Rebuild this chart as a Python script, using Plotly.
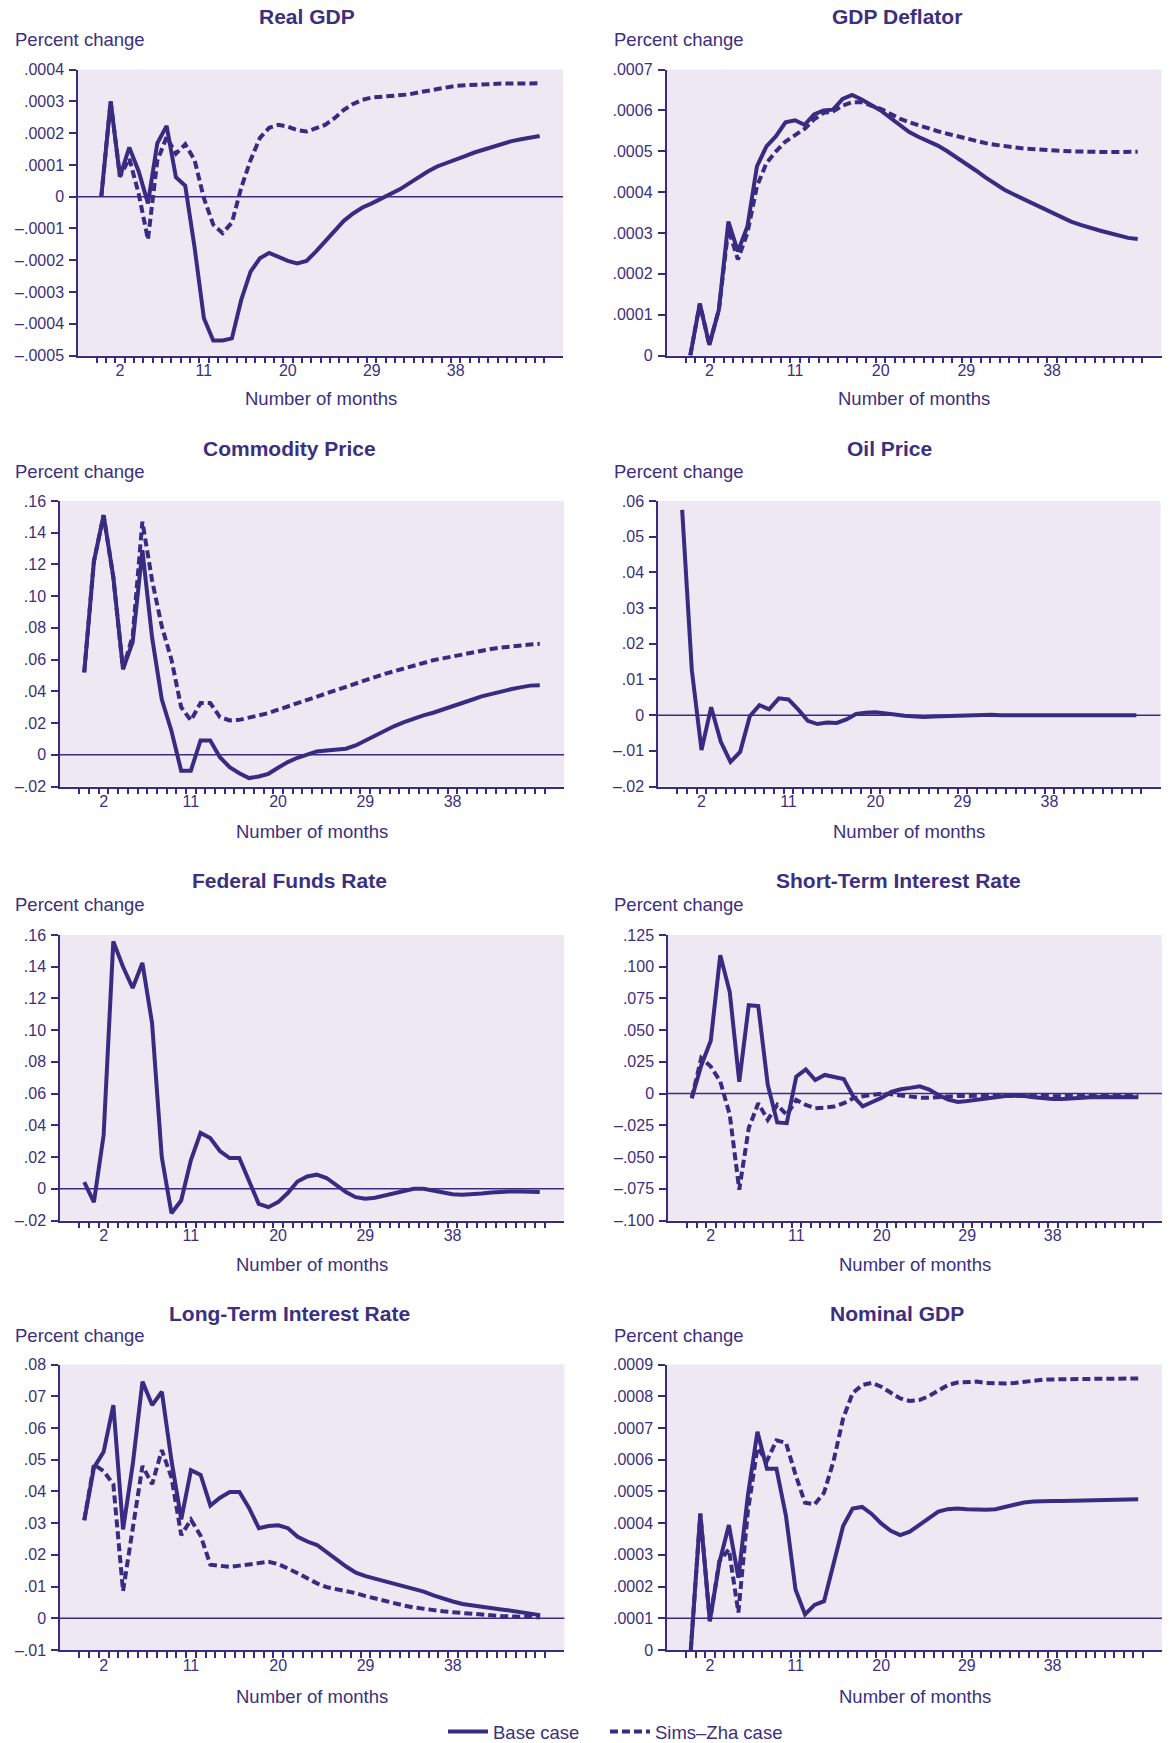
import plotly.graph_objects as go

# ---------------- DATA ----------------
months = list(range(48))

real_gdp_base = [0.0, 3.0e-4, 0.63e-4, 1.55e-4, 0.8e-4, -0.21e-4, 1.68e-4, 2.23e-4, 0.61e-4, 0.34e-4,
                 -1.6e-4, -3.83e-4, -4.53e-4, -4.53e-4, -4.46e-4, -3.25e-4, -2.36e-4, -1.94e-4, -1.77e-4, -1.89e-4,
                 -2.02e-4, -2.1e-4, -2.02e-4, -1.73e-4, -1.42e-4, -1.08e-4, -0.76e-4, -0.53e-4, -0.34e-4, -0.21e-4,
                 -0.07e-4, 0.08e-4, 0.23e-4, 0.42e-4, 0.61e-4, 0.79e-4, 0.95e-4, 1.07e-4, 1.18e-4, 1.28e-4,
                 1.39e-4, 1.48e-4, 1.58e-4, 1.66e-4, 1.75e-4, 1.81e-4, 1.86e-4, 1.91e-4]
real_gdp_sz = [0.0, 3.0e-4, 0.63e-4, 1.2e-4, 0.1e-4, -1.35e-4, 1.13e-4, 1.88e-4, 1.35e-4, 1.65e-4,
               1.15e-4, -0.05e-4, -0.88e-4, -1.15e-4, -0.82e-4, 0.28e-4, 1.15e-4, 1.85e-4, 2.17e-4, 2.26e-4,
               2.2e-4, 2.1e-4, 2.05e-4, 2.15e-4, 2.26e-4, 2.47e-4, 2.73e-4, 2.92e-4, 3.05e-4, 3.12e-4,
               3.15e-4, 3.17e-4, 3.18e-4, 3.22e-4, 3.28e-4, 3.34e-4, 3.39e-4, 3.45e-4, 3.49e-4, 3.51e-4,
               3.53e-4, 3.54e-4, 3.55e-4, 3.56e-4, 3.56e-4, 3.57e-4, 3.57e-4, 3.57e-4]

deflator_base = [0.0, 1.27e-4, 0.26e-4, 1.12e-4, 3.28e-4, 2.55e-4, 3.16e-4, 4.63e-4, 5.12e-4, 5.37e-4,
                 5.71e-4, 5.76e-4, 5.65e-4, 5.9e-4, 6.0e-4, 6.02e-4, 6.28e-4, 6.38e-4, 6.27e-4, 6.14e-4,
                 6.0e-4, 5.82e-4, 5.63e-4, 5.47e-4, 5.35e-4, 5.24e-4, 5.14e-4, 5.0e-4, 4.85e-4, 4.69e-4,
                 4.53e-4, 4.36e-4, 4.2e-4, 4.06e-4, 3.94e-4, 3.83e-4, 3.72e-4, 3.6e-4, 3.49e-4, 3.39e-4,
                 3.28e-4, 3.2e-4, 3.12e-4, 3.06e-4, 3.0e-4, 2.93e-4, 2.88e-4, 2.85e-4]
deflator_sz = [0.0, 1.27e-4, 0.26e-4, 1.12e-4, 3.1e-4, 2.35e-4, 3.0e-4, 4.14e-4, 4.71e-4, 5.0e-4,
               5.24e-4, 5.41e-4, 5.55e-4, 5.78e-4, 5.94e-4, 5.98e-4, 6.12e-4, 6.2e-4, 6.2e-4, 6.12e-4,
               6.04e-4, 5.92e-4, 5.8e-4, 5.71e-4, 5.63e-4, 5.56e-4, 5.49e-4, 5.43e-4, 5.37e-4, 5.3e-4,
               5.24e-4, 5.2e-4, 5.16e-4, 5.12e-4, 5.1e-4, 5.07e-4, 5.05e-4, 5.03e-4, 5.02e-4, 5.01e-4,
               5.0e-4, 4.99e-4, 4.99e-4, 4.98e-4, 4.98e-4, 4.98e-4, 4.98e-4, 4.99e-4]

commodity_base = [0.052, 0.122, 0.151, 0.112, 0.054, 0.071, 0.129, 0.074, 0.035, 0.015,
                  -0.010, -0.010, 0.009, 0.009, -0.0015, -0.0078, -0.0116, -0.0147, -0.0137, -0.012,
                  -0.0082, -0.0046, -0.0019, 0.0002, 0.0021, 0.0027, 0.0032, 0.0038, 0.0059, 0.009,
                  0.0124, 0.0154, 0.0181, 0.0206, 0.023, 0.0248, 0.0265, 0.0284, 0.0305, 0.0326,
                  0.0347, 0.0368, 0.0385, 0.04, 0.0413, 0.0425, 0.0436, 0.0438]
commodity_sz = [0.052, 0.122, 0.151, 0.112, 0.054, 0.075, 0.147, 0.110, 0.081, 0.060,
                0.030, 0.0217, 0.0326, 0.0326, 0.0238, 0.0217, 0.022, 0.0234, 0.0248, 0.0263,
                0.0284, 0.0305, 0.0326, 0.0347, 0.037, 0.039, 0.041, 0.0427, 0.0448, 0.0469,
                0.049, 0.051, 0.0528, 0.0547, 0.0564, 0.0581, 0.0596, 0.0608, 0.0621, 0.0634,
                0.0646, 0.0657, 0.0667, 0.0676, 0.0684, 0.069, 0.0695, 0.07]

oil_base = [0.0575, 0.0126, -0.0098, 0.0022, -0.0075, -0.0131, -0.0103, -0.0003, 0.0028, 0.0016,
            0.0047, 0.0044, 0.0016, -0.0016, -0.0025, -0.0021, -0.0022, -0.0012, 0.0003, 0.0007,
            0.0008, 0.0006, 0.0002, -0.0002, -0.0004, -0.0005, -0.0004, -0.0003, -0.0002, -0.0001,
            0.0, 0.0001, 0.0001, 0.0, 0.0, -0.0001, 0.0, 0.0, 0.0, 0.0,
            0.0, 0.0, 0.0, 0.0, 0.0, 0.0, 0.0, 0.0]

fedfunds_base = [0.0042, -0.0084, 0.0338, 0.156, 0.140, 0.1266, 0.1424, 0.1044, 0.020, -0.0154,
                 -0.0074, 0.0179, 0.0352, 0.032, 0.0238, 0.0194, 0.0194, 0.0057, -0.0095, -0.0116,
                 -0.0084, -0.0027, 0.0046, 0.0078, 0.0089, 0.0068, 0.0025, -0.0021, -0.0053, -0.0063,
                 -0.0057, -0.0042, -0.0025, -0.0011, 0.0, 0.0, -0.0011, -0.0025, -0.0034, -0.0038,
                 -0.0036, -0.003, -0.0023, -0.0017, -0.0017, -0.0017, -0.0019, -0.0021]

short_base = [-0.0036, 0.0222, 0.0416, 0.109, 0.080, 0.0093, 0.0697, 0.069, 0.007, -0.0227,
              -0.0233, 0.0134, 0.0191, 0.0107, 0.0147, 0.0134, 0.0115, -0.0022, -0.01, -0.0066,
              -0.0032, 0.0013, 0.0034, 0.0045, 0.0058, 0.0032, -0.0013, -0.0047, -0.0066, -0.0058,
              -0.0047, -0.0037, -0.0026, -0.0018, -0.0016, -0.0018, -0.0029, -0.0037, -0.0042, -0.0042,
              -0.004, -0.0034, -0.0029, -0.0026, -0.0026, -0.0026, -0.0029, -0.0029]
short_sz = [-0.0036, 0.028, 0.0214, 0.0096, -0.0167, -0.0757, -0.0272, -0.0076, -0.0207, -0.0089,
            -0.0168, -0.005, -0.0089, -0.0115, -0.011, -0.0102, -0.0076, -0.0037, -0.0021, -0.0008,
            0.0, -0.0005, -0.0013, -0.0026, -0.0032, -0.0032, -0.0026, -0.0021, -0.0018, -0.0018,
            -0.0016, -0.0015, -0.0015, -0.0016, -0.0018, -0.002, -0.0021, -0.0021, -0.002, -0.0019,
            -0.0018, -0.0017, -0.0016, -0.0016, -0.0017, -0.0018, -0.0018, -0.0018]

long_base = [0.0309, 0.0475, 0.0525, 0.0672, 0.028, 0.0485, 0.0746, 0.0672, 0.0714, 0.0496,
             0.0312, 0.0467, 0.0452, 0.0355, 0.038, 0.0398, 0.0398, 0.0347, 0.0284, 0.0291,
             0.0293, 0.0284, 0.0257, 0.0242, 0.0231, 0.021, 0.0186, 0.0163, 0.0144, 0.0133,
             0.0125, 0.0118, 0.011, 0.0103, 0.0095, 0.0084, 0.0072, 0.0061, 0.0053, 0.0045,
             0.004, 0.0036, 0.0032, 0.0028, 0.0024, 0.002, 0.0016, 0.001]
long_sz = [0.0309, 0.0485, 0.0464, 0.0422, 0.0086, 0.029, 0.048, 0.0423, 0.053, 0.0443,
           0.0262, 0.0311, 0.026, 0.0169, 0.0165, 0.0162, 0.0166, 0.0171, 0.0175, 0.0178,
           0.0171, 0.0158, 0.0142, 0.0126, 0.011, 0.0098, 0.0092, 0.0087, 0.0079, 0.007,
           0.0062, 0.0055, 0.0047, 0.004, 0.0034, 0.0029, 0.0025, 0.0022, 0.0019, 0.0016,
           0.0014, 0.0012, 0.0009, 0.0007, 0.0006, 0.0005, 0.0004, 0.0003]

nominal_base = [0.0, 4.3e-4, 0.91e-4, 2.75e-4, 3.94e-4, 2.28e-4, 4.88e-4, 6.88e-4, 5.71e-4, 5.71e-4,
                4.22e-4, 1.91e-4, 1.12e-4, 1.42e-4, 1.54e-4, 2.7e-4, 3.91e-4, 4.46e-4, 4.51e-4, 4.29e-4,
                3.99e-4, 3.76e-4, 3.62e-4, 3.73e-4, 3.94e-4, 4.15e-4, 4.36e-4, 4.44e-4, 4.46e-4, 4.44e-4,
                4.42e-4, 4.42e-4, 4.44e-4, 4.52e-4, 4.59e-4, 4.65e-4, 4.68e-4, 4.7e-4, 4.7e-4, 4.7e-4,
                4.71e-4, 4.71e-4, 4.72e-4, 4.73e-4, 4.74e-4, 4.75e-4, 4.75e-4, 4.75e-4]
nominal_sz = [0.0, 4.3e-4, 0.91e-4, 2.8e-4, 3.17e-4, 1.18e-4, 4.38e-4, 6.37e-4, 5.96e-4, 6.61e-4,
              6.53e-4, 5.53e-4, 4.64e-4, 4.59e-4, 4.96e-4, 5.96e-4, 7.3e-4, 8.1e-4, 8.35e-4, 8.42e-4,
              8.3e-4, 8.11e-4, 7.93e-4, 7.85e-4, 7.88e-4, 8.0e-4, 8.19e-4, 8.35e-4, 8.43e-4, 8.46e-4,
              8.46e-4, 8.42e-4, 8.4e-4, 8.4e-4, 8.42e-4, 8.46e-4, 8.5e-4, 8.52e-4, 8.53e-4, 8.54e-4,
              8.54e-4, 8.55e-4, 8.55e-4, 8.55e-4, 8.55e-4, 8.55e-4, 8.56e-4, 8.56e-4]

titles = ["Real GDP", "GDP Deflator", "Commodity Price", "Oil Price",
          "Federal Funds Rate", "Short-Term Interest Rate", "Long-Term Interest Rate", "Nominal GDP"]
series_names = ["Base case", "Sims–Zha case"]

x_tick_vals = [2, 11, 20, 29, 38]
x_tick_text = ["2", "11", "20", "29", "38"]

y_ticks_gdp = [-0.0005, -0.0004, -0.0003, -0.0002, -0.0001, 0, 0.0001, 0.0002, 0.0003, 0.0004]
y_text_gdp = ["–.0005", "–.0004", "–.0003", "–.0002", "–.0001", "0", ".0001", ".0002", ".0003", ".0004"]
y_ticks_defl = [0, 0.0001, 0.0002, 0.0003, 0.0004, 0.0005, 0.0006, 0.0007]
y_text_defl = ["0", ".0001", ".0002", ".0003", ".0004", ".0005", ".0006", ".0007"]
y_ticks_comm = [-0.02, 0, 0.02, 0.04, 0.06, 0.08, 0.10, 0.12, 0.14, 0.16]
y_text_comm = ["–.02", "0", ".02", ".04", ".06", ".08", ".10", ".12", ".14", ".16"]
y_ticks_oil = [-0.02, -0.01, 0, 0.01, 0.02, 0.03, 0.04, 0.05, 0.06]
y_text_oil = ["–.02", "–.01", "0", ".01", ".02", ".03", ".04", ".05", ".06"]
y_ticks_short = [-0.1, -0.075, -0.05, -0.025, 0, 0.025, 0.05, 0.075, 0.1, 0.125]
y_text_short = ["–.100", "–.075", "–.050", "–.025", "0", ".025", ".050", ".075", ".100", ".125"]
y_ticks_long = [-0.01, 0, 0.01, 0.02, 0.03, 0.04, 0.05, 0.06, 0.07, 0.08]
y_text_long = ["–.01", "0", ".01", ".02", ".03", ".04", ".05", ".06", ".07", ".08"]
y_ticks_nom = [0, 0.0001, 0.0002, 0.0003, 0.0004, 0.0005, 0.0006, 0.0007, 0.0008, 0.0009]
y_text_nom = ["0", ".0001", ".0002", ".0003", ".0004", ".0005", ".0006", ".0007", ".0008", ".0009"]

# ---------------- STYLE / LAYOUT ----------------
W, H = 1173, 1743
INK = "#3a2b82"
TXT = "#3c2f80"
BG = "#ede8f2"
FONT = "Liberation Sans, Arial, sans-serif"


def px(x):
    return x / W


def py(y):
    return 1 - y / H


panels = [
    # base, sims-zha, yrange, tickvals, ticktext, baseline, plot box (l, r, t, b) px, title center x, "Percent change" x
    (real_gdp_base, real_gdp_sz, [-0.0005, 0.0004], y_ticks_gdp, y_text_gdp, 0, (78, 563, 69.6, 355.5), 307, 13),
    (deflator_base, deflator_sz, [0, 0.0007], y_ticks_defl, y_text_defl, None, (666.5, 1161.5, 69.6, 355.5), 897, 612),
    (commodity_base, commodity_sz, [-0.02, 0.16], y_ticks_comm, y_text_comm, 0, (60, 564, 501, 786.5), 289, 13),
    (oil_base, None, [-0.02, 0.06], y_ticks_oil, y_text_oil, 0, (658, 1160.5, 501, 786.5), 889, 612),
    (fedfunds_base, None, [-0.02, 0.16], y_ticks_comm, y_text_comm, 0, (60, 564, 935, 1220.5), 289, 13),
    (short_base, short_sz, [-0.1, 0.125], y_ticks_short, y_text_short, 0, (668, 1162, 935, 1220.5), 898, 612),
    (long_base, long_sz, [-0.01, 0.08], y_ticks_long, y_text_long, 0, (60, 564.4, 1364.5, 1650), 289, 13),
    (nominal_base, nominal_sz, [0, 0.0009], y_ticks_nom, y_text_nom, 0.0001, (667, 1162, 1364.5, 1650), 897, 612),
]
title_y = [16.7, 16.7, 449, 449, 880.5, 880.5, 1313, 1313]
pc_y = [40, 40, 471.5, 471.5, 904, 904, 1335.5, 1335.5]
xlab_y = [399, 399, 831.7, 831.7, 1264, 1264, 1696, 1696]

boundaries = [m - 0.5 for m in range(49)]

fig = go.Figure()
layout = dict(
    width=W, height=H,
    margin=dict(l=0, r=0, t=0, b=0, pad=0, autoexpand=False),
    paper_bgcolor="white", plot_bgcolor=BG,
    font=dict(family=FONT, color=TXT, size=16),
    showlegend=True,
    legend=dict(orientation="h", x=px(443), xanchor="left", y=py(1732), yanchor="middle",
                font=dict(size=18.5, color=TXT, family=FONT), bgcolor="rgba(0,0,0,0)",
                itemwidth=40, borderwidth=0, tracegroupgap=0),
)
shapes = []
annotations = []

for i, (base, sz, yr, tv, tt, baseline, box, tcx, pcx) in enumerate(panels):
    k = i + 1
    xa = "x" if k == 1 else f"x{k}"
    ya = "y" if k == 1 else f"y{k}"
    l, r, t, b = box
    layout[f"xaxis{'' if k == 1 else k}"] = dict(
        domain=[px(l), px(r)], anchor=ya, range=[-2.5, 49.5],
        showline=True, linecolor=INK, linewidth=1.5, showgrid=False, zeroline=False,
        tickmode="array", tickvals=x_tick_vals, ticktext=x_tick_text,
        ticks="", ticklabelstandoff=0,
        tickfont=dict(size=16, color=TXT, family=FONT),
        minor=dict(tickmode="array", tickvals=boundaries, ticks="outside", ticklen=6,
                   tickwidth=1.5, tickcolor=INK, showgrid=False),
        fixedrange=True, automargin=False,
    )
    layout[f"yaxis{'' if k == 1 else k}"] = dict(
        domain=[py(b), py(t)], anchor=xa, range=yr,
        showline=True, linecolor=INK, linewidth=1.5, showgrid=False, zeroline=False,
        tickmode="array", tickvals=tv, ticktext=tt,
        ticks="outside", ticklen=7, tickwidth=1.5, tickcolor=INK, ticklabelstandoff=2,
        tickfont=dict(size=16, color=TXT, family=FONT),
        fixedrange=True, automargin=False,
    )
    if baseline is not None:
        shapes.append(dict(type="line", xref=f"{xa} domain", yref=ya, x0=0, x1=1,
                           y0=baseline, y1=baseline, line=dict(color=INK, width=1.5), layer="below"))
    fig.add_trace(go.Scatter(x=months, y=base, xaxis=xa, yaxis=ya, mode="lines",
                             line=dict(color=INK, width=4),
                             name=series_names[0] + "\u00a0\u00a0\u00a0\u00a0",
                             showlegend=(k == 1), hoverinfo="skip"))
    if sz is not None:
        fig.add_trace(go.Scatter(x=months, y=sz, xaxis=xa, yaxis=ya, mode="lines",
                                 line=dict(color=INK, width=4, dash="8px,4px"), name=series_names[1],
                                 showlegend=(k == 1), hoverinfo="skip"))
    annotations.append(dict(text=f"<b>{titles[i]}</b>", xref="paper", yref="paper",
                            x=px(tcx), y=py(title_y[i]), xanchor="center", yanchor="middle",
                            showarrow=False, font=dict(size=21, color=TXT, family=FONT)))
    annotations.append(dict(text="Percent change", xref="paper", yref="paper",
                            x=px(pcx), y=py(pc_y[i]), xanchor="left", yanchor="middle",
                            showarrow=False, font=dict(size=18.5, color=TXT, family=FONT)))
    annotations.append(dict(text="Number of months", xref=f"{xa} domain", yref="paper",
                            x=0.5, y=py(xlab_y[i]), xanchor="center", yanchor="middle",
                            showarrow=False, font=dict(size=18.5, color=TXT, family=FONT)))

layout["shapes"] = shapes
layout["annotations"] = annotations
fig.update_layout(**layout)
fig.write_html("out.html", config={"displayModeBar": False},
               post_script="document.body.style.margin='0px';")
